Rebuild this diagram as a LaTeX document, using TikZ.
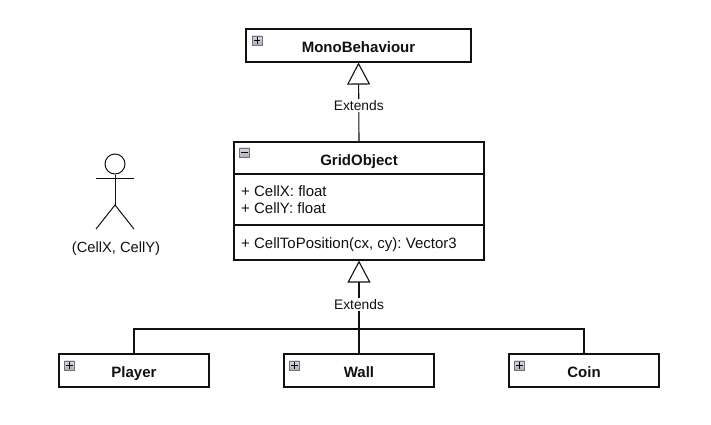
\documentclass[tikz,border=0pt]{standalone}
\usepackage{fontspec}
\setmainfont{Liberation Sans}
\usetikzlibrary{arrows.meta}
\definecolor{ink}{HTML}{111111}
\definecolor{iconA}{HTML}{D8DBE6}
\definecolor{iconB}{HTML}{A9ACBC}
\frenchspacing
\tikzset{
  titletext/.style={text=ink,text height=15pt,text depth=1pt,font=\bfseries\fontsize{15}{17}\selectfont},
  umlbox/.style={draw=ink,line width=1.1pt,fill=white,inner sep=0pt,titletext},
  iconbox/.style={draw=black!55,line width=.5pt,top color=iconA,bottom color=iconB,minimum width=10pt,minimum height=9.5pt,inner sep=0pt},
  iconmark/.style={draw=black,line width=.9pt},
  conn/.style={draw=ink,line width=1.1pt},
  inherit/.style={conn,-{Triangle[open,length=22pt,width=23pt,line width=1.1pt]}},
  edgelabel/.style={fill=white,inner sep=1.5pt,text=ink,font=\fontsize{13.8}{16}\selectfont},
  member/.style={anchor=west,text=ink,inner sep=0pt,font=\fontsize{15}{17}\selectfont,align=left},
  sep/.style={draw=ink,line width=1.1pt},
  stick/.style={draw=ink,line width=1pt}
}
\begin{document}
\begin{tikzpicture}[x=1pt,y=-1pt]
\useasboundingbox[fill=white] (0,0) rectangle (711,424);
% classes
\node[umlbox,minimum width=225pt,minimum height=33pt] (mono) at (358.5,45.5) {MonoBehaviour};
\node[umlbox,minimum width=250pt,minimum height=118pt] (grid) at (359,201) {};
\node[titletext,inner sep=0pt] (gridname) at (359,158) {GridObject};
\node[umlbox,minimum width=150pt,minimum height=33pt] (player) at (134,370.5) {Player};
\node[umlbox,minimum width=150pt,minimum height=33pt] (wall) at (359,370.5) {Wall};
\node[umlbox,minimum width=150pt,minimum height=33pt] (coin) at (584,370.5) {Coin};
% GridObject compartments
\coordinate (d1l) at (234,174); \coordinate (d1r) at (484,174);
\coordinate (d2l) at (234,225); \coordinate (d2r) at (484,225);
\draw[sep] (d1l) -- (d1r);
\draw[sep] (d2l) -- (d2r);
\node[member] (attrs) at (241,199.5) {+ CellX: float\\+ CellY: float};
\node[member] (ops) at (241,244.5) {+ CellToPosition(cx, cy): Vector3};
% icons
\node[iconbox] (imono) at (257,40.5) {};
\draw[iconmark] (imono.center) ++(-3.2,0) -- ++(6.4,0) (imono.center) ++(0,-3.2) -- ++(0,6.4);
\node[iconbox] (igrid) at (244.5,152.5) {};
\draw[iconmark] (igrid.center) ++(-3.2,0) -- ++(6.4,0);
\node[iconbox] (iplayer) at (69.5,365.5) {};
\draw[iconmark] (iplayer.center) ++(-3.2,0) -- ++(6.4,0) (iplayer.center) ++(0,-3.2) -- ++(0,6.4);
\node[iconbox] (iwall) at (294.5,365.5) {};
\draw[iconmark] (iwall.center) ++(-3.2,0) -- ++(6.4,0) (iwall.center) ++(0,-3.2) -- ++(0,6.4);
\node[iconbox] (icoin) at (519.5,365.5) {};
\draw[iconmark] (icoin.center) ++(-3.2,0) -- ++(6.4,0) (icoin.center) ++(0,-3.2) -- ++(0,6.4);
% connectors
\coordinate (bus) at (359,329);
\draw[inherit] (grid.north) -- (mono.south) node[edgelabel,pos=.46] (ext1) {Extends};
\draw[inherit] (wall.north) -- (grid.south) node[edgelabel,pos=.53] (ext2) {Extends};
\draw[conn] (player.north) |- (bus) -| (coin.north);
% stick figure
\node[draw=ink,line width=1pt,circle,minimum size=20pt,inner sep=0pt] (head) at (115,164) {};
\coordinate (hip) at (115,205);
\coordinate (armL) at (96,178); \coordinate (armR) at (134,178);
\coordinate (footL) at (96,229); \coordinate (footR) at (134,229);
\draw[stick] (head.south) -- (hip);
\draw[stick] (armL) -- (armR);
\draw[stick] (footL) -- (hip) -- (footR);
\node[text=ink,inner sep=0pt,font=\fontsize{14.7}{17}\selectfont] (actor) at (116,248.5) {(CellX, CellY)};
\end{tikzpicture}
\end{document}
